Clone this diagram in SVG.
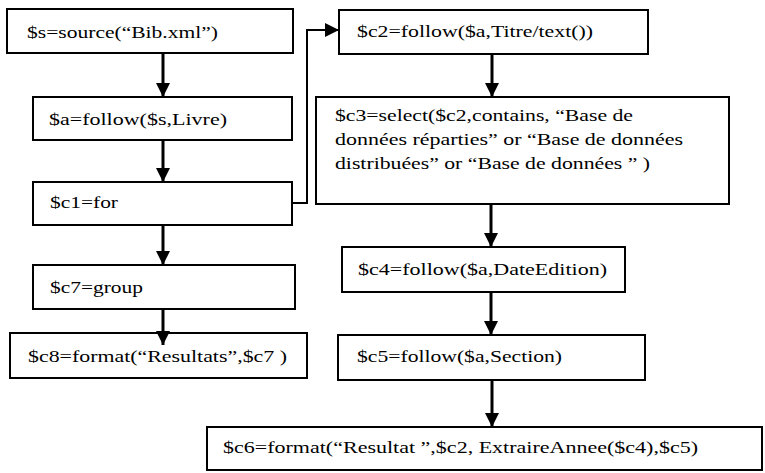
<svg xmlns="http://www.w3.org/2000/svg" width="765" height="473" viewBox="0 0 765 473">
<style>
.box{fill:#fff;stroke:#000;stroke-width:2}
.t{font-size:16px;fill:#000}
.c{fill:none;stroke:#000;stroke-width:3}
.c2{fill:none;stroke:#000;stroke-width:2}
</style>
<defs>
<marker id="ah" markerUnits="userSpaceOnUse" markerWidth="14" markerHeight="16" viewBox="0 0 14 16" refX="14" refY="8" orient="auto">
<path d="M0,1 L14,8 L0,15 Z" fill="#000"/>
</marker>
</defs>
<rect width="765" height="473" fill="#fff"/>
<g id="s"><rect class="box" x="7" y="9" width="286" height="44"/><text class="t" font-family="Liberation Serif, DejaVu Serif, serif" x="27" y="38" textLength="191" lengthAdjust="spacingAndGlyphs">$s=source(“Bib.xml”)</text></g>
<g id="a"><rect class="box" x="33" y="97" width="259" height="43"/><text class="t" font-family="Liberation Serif, DejaVu Serif, serif" x="49" y="125" textLength="178" lengthAdjust="spacingAndGlyphs">$a=follow($s,Livre)</text></g>
<g id="c1"><rect class="box" x="33" y="182" width="259" height="43"/><text class="t" font-family="Liberation Serif, DejaVu Serif, serif" x="50" y="208" textLength="68" lengthAdjust="spacingAndGlyphs">$c1=for</text></g>
<g id="c7"><rect class="box" x="33" y="265" width="262" height="44"/><text class="t" font-family="Liberation Serif, DejaVu Serif, serif" x="50" y="293" textLength="93" lengthAdjust="spacingAndGlyphs">$c7=group</text></g>
<g id="c8"><rect class="box" x="10" y="333" width="297" height="45"/><text class="t" font-family="Liberation Serif, DejaVu Serif, serif" x="28" y="362" textLength="259" lengthAdjust="spacingAndGlyphs">$c8=format(“Resultats”,$c7 )</text></g>
<g id="c2"><rect class="box" x="339" y="10" width="309" height="44"/><text class="t" font-family="Liberation Serif, DejaVu Serif, serif" x="357" y="37" textLength="236" lengthAdjust="spacingAndGlyphs">$c2=follow($a,Titre/text())</text></g>
<g id="c3"><rect class="box" x="316" y="97" width="413" height="107"/>
<text class="t" font-family="Liberation Serif, DejaVu Serif, serif" x="335" y="121" textLength="298" lengthAdjust="spacingAndGlyphs">$c3=select($c2,contains, “Base de</text>
<text class="t" font-family="Liberation Serif, DejaVu Serif, serif" x="335" y="145" textLength="348" lengthAdjust="spacingAndGlyphs">données réparties” or “Base de  données</text>
<text class="t" font-family="Liberation Serif, DejaVu Serif, serif" x="335" y="169" textLength="315" lengthAdjust="spacingAndGlyphs">distribuées” or “Base de données ” )</text></g>
<g id="c4"><rect class="box" x="342" y="247" width="283" height="45"/><text class="t" font-family="Liberation Serif, DejaVu Serif, serif" x="358" y="275" textLength="249" lengthAdjust="spacingAndGlyphs">$c4=follow($a,DateEdition)</text></g>
<g id="c5"><rect class="box" x="338" y="335" width="307" height="45"/><text class="t" font-family="Liberation Serif, DejaVu Serif, serif" x="357" y="362" textLength="205" lengthAdjust="spacingAndGlyphs">$c5=follow($a,Section)</text></g>
<g id="c6"><rect class="box" x="207" y="427" width="555" height="43"/><text class="t" font-family="Liberation Serif, DejaVu Serif, serif" x="223" y="453" textLength="475" lengthAdjust="spacingAndGlyphs">$c6=format(“Resultat ”,$c2, ExtraireAnnee($c4),$c5)</text></g>
<g id="connectors">
<line class="c" x1="163" y1="53" x2="163" y2="97" marker-end="url(#ah)"/>
<line class="c" x1="163" y1="140" x2="163" y2="182" marker-end="url(#ah)"/>
<line class="c" x1="163" y1="225" x2="163" y2="265" marker-end="url(#ah)"/>
<line class="c" x1="163" y1="309" x2="163" y2="345" marker-end="url(#ah)"/>
<polyline class="c2" points="292,203 307,203 307,30 339,30" marker-end="url(#ah)"/>
<line class="c" x1="492" y1="54" x2="492" y2="97" marker-end="url(#ah)"/>
<line class="c" x1="491" y1="204" x2="491" y2="247" marker-end="url(#ah)"/>
<line class="c" x1="491" y1="292" x2="491" y2="335" marker-end="url(#ah)"/>
<line class="c" x1="492" y1="380" x2="492" y2="427" marker-end="url(#ah)"/>
</g>
</svg>
